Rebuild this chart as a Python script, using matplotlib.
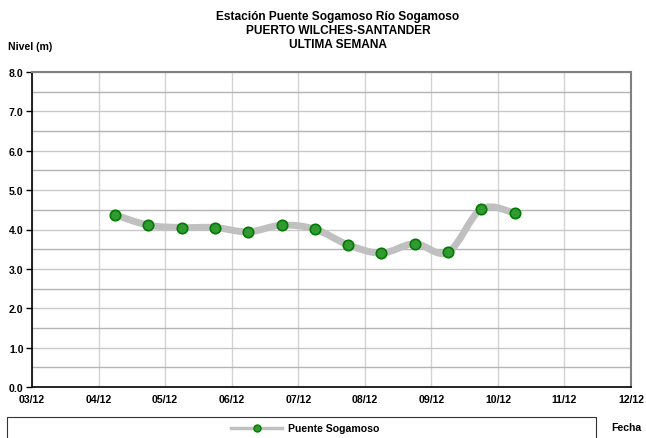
import matplotlib
matplotlib.use("Agg")
import matplotlib.pyplot as plt
from matplotlib.path import Path
from matplotlib.patches import PathPatch, Rectangle
from matplotlib.lines import Line2D

plt.rcParams["font.family"] = ["Liberation Sans", "DejaVu Sans"]
plt.rcParams["font.weight"] = "bold"

# days since 03/12 00:00, readings at 06:00 and 18:00
days = [1.25, 1.75, 2.25, 2.75, 3.25, 3.75, 4.25, 4.75, 5.25, 5.75, 6.25, 6.75, 7.25]
nivel = [4.37, 4.11, 4.05, 4.05, 3.94, 4.11, 4.01, 3.61, 3.40, 3.64, 3.42, 4.52, 4.42]
date_labels = ["03/12", "04/12", "05/12", "06/12", "07/12", "08/12",
               "09/12", "10/12", "11/12", "12/12"]
y_labels = ["0.0", "1.0", "2.0", "3.0", "4.0", "5.0", "6.0", "7.0", "8.0"]
serie = "Puente Sogamoso"

fs = 7.6
fig = plt.figure(figsize=(6.46, 4.39), dpi=100)
ax = fig.add_axes([32 / 646, 51 / 439, 599 / 646, 315 / 439])

ax.set_xlim(0, len(date_labels) - 1)
ax.set_ylim(0, 8)
ax.set_xticks(range(len(date_labels)))
ax.set_xticklabels(date_labels, fontsize=fs, fontweight="bold")
ax.set_yticks(range(len(y_labels)))
ax.set_yticklabels(y_labels, fontsize=fs, fontweight="bold")
ax.set_yticks([i + 0.5 for i in range(8)], minor=True)
ax.tick_params(axis="y", which="major", length=4, width=1, pad=2)
ax.tick_params(axis="y", which="minor", length=0)
ax.tick_params(axis="x", length=0, pad=5)

ax.grid(axis="x", color="#d4d4d4", linewidth=1)
ax.grid(axis="y", which="major", color="#c8c8c8", linewidth=1)
ax.grid(axis="y", which="minor", color="#b4b4b4", linewidth=1)
ax.set_axisbelow(True)

for s in ["top", "right"]:
    ax.spines[s].set_color("#808080")
    ax.spines[s].set_linewidth(1.5)
for s in ["left", "bottom"]:
    ax.spines[s].set_color("#000000")
    ax.spines[s].set_linewidth(1.2)

# smooth line through the readings (Catmull-Rom as cubic Bezier segments)
verts = [(days[0], nivel[0])]
codes = [Path.MOVETO]
n = len(days)
for i in range(n - 1):
    x0, y0 = days[max(i - 1, 0)], nivel[max(i - 1, 0)]
    x1, y1 = days[i], nivel[i]
    x2, y2 = days[i + 1], nivel[i + 1]
    x3, y3 = days[min(i + 2, n - 1)], nivel[min(i + 2, n - 1)]
    c1 = (x1 + (x2 - x0) / 6, y1 + (y2 - y0) / 6)
    c2 = (x2 - (x3 - x1) / 6, y2 - (y3 - y1) / 6)
    verts += [c1, c2, (x2, y2)]
    codes += [Path.CURVE4] * 3
ax.add_patch(PathPatch(Path(verts, codes), facecolor="none", edgecolor="#c0c0c0",
                       linewidth=5, capstyle="round", joinstyle="round", zorder=3))
ax.plot(days, nivel, linestyle="none", marker="o", markersize=7.5,
        markerfacecolor="#339933", markeredgecolor="#007a00",
        markeredgewidth=1.2, zorder=4)

tx = 338 / 646
fig.text(tx, 1 - 17 / 439, "Estación Puente Sogamoso Río Sogamoso", ha="center", va="center",
         fontsize=8.6, fontweight="bold")
fig.text(tx, 1 - 31 / 439, "PUERTO WILCHES-SANTANDER", ha="center", va="center",
         fontsize=8.6, fontweight="bold")
fig.text(tx, 1 - 45 / 439, "ULTIMA SEMANA", ha="center", va="center",
         fontsize=8.6, fontweight="bold")
fig.text(8 / 646, 1 - 47 / 439, "Nivel (m)", ha="left", va="center",
         fontsize=fs, fontweight="bold")
fig.text(611 / 646, 1 - 428 / 439, "Fecha", ha="left", va="center",
         fontsize=fs, fontweight="bold")

# legend box
fig.patches.append(Rectangle((7 / 646, -0.05), (596 - 7) / 646, (0.05 + 1 - 418 / 439),
                             transform=fig.transFigure, facecolor="white",
                             edgecolor="#333333", linewidth=0.8))
fig.lines.append(Line2D([231 / 646, 282 / 646], [1 - 429 / 439] * 2,
                        transform=fig.transFigure, color="#c0c0c0", linewidth=2.5))
fig.lines.append(Line2D([257 / 646], [1 - 429 / 439], transform=fig.transFigure,
                        marker="o", markersize=5, markerfacecolor="#339933",
                        markeredgecolor="#007a00", linestyle="none"))
fig.text(288 / 646, 1 - 429 / 439, serie, ha="left", va="center",
         fontsize=fs, fontweight="bold")

fig.savefig("out.png", dpi=100)
